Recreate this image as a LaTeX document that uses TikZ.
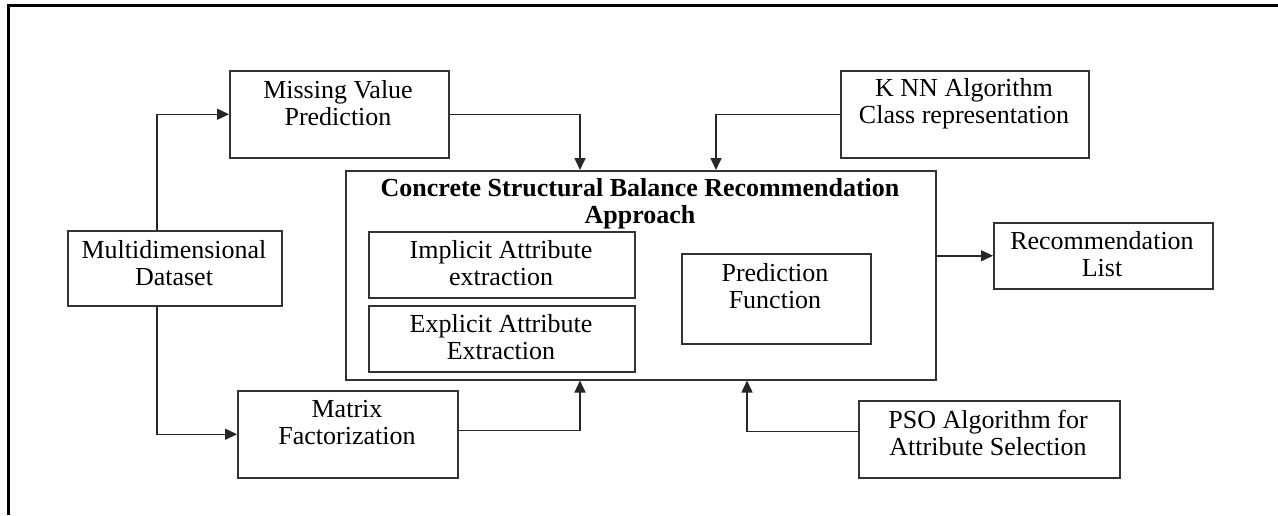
\documentclass[tikz,border=0pt]{standalone}
\usepackage{fontspec}
\setmainfont{Liberation Serif}
\usetikzlibrary{arrows.meta,calc}
\begin{document}
\begin{tikzpicture}[x=0.5pt,y=-0.5pt,
  box/.style={draw=black!80,line width=0.75pt,inner sep=0pt,anchor=north west},
  txt/.style={inner sep=0pt,align=center,font=\fontsize{13}{13.5}\selectfont},
  conn/.style={draw=black!85,line width=0.75pt,-{Triangle[length=6pt,width=5.5pt]}},
  frame/.style={draw=black,line width=1.5pt}]
\useasboundingbox (0,0) rectangle (1278,515);
\draw[frame] (8,515) -- (8,5) -- (1278,5);
% boxes
\node[box,minimum width=219*0.5pt,minimum height=87*0.5pt] (mv) at (229,70) {};
\node[txt] (mvt) at (338,103) {Missing Value\\Prediction};
\node[box,minimum width=248*0.5pt,minimum height=87*0.5pt] (knn) at (840,70) {};
\node[txt] (knnt) at (964,104) {K NN Algorithm\\Class representation};
\node[box,minimum width=590*0.5pt,minimum height=209*0.5pt] (main) at (345,170) {};
\node[txt,font=\fontsize{13}{13.5}\selectfont\bfseries] (maint) at (640,204) {Concrete Structural Balance Recommendation\\Approach};
\node[box,minimum width=266*0.5pt,minimum height=66*0.5pt] (imp) at (368,231) {};
\node[txt] (impt) at (501,263) {Implicit Attribute\\extraction};
\node[box,minimum width=266*0.5pt,minimum height=66*0.5pt] (exp) at (368,305) {};
\node[txt] (expt) at (501,337) {Explicit Attribute\\Extraction};
\node[box,minimum width=189*0.5pt,minimum height=90*0.5pt] (pred) at (681,253) {};
\node[txt] (predt) at (775,286) {Prediction\\Function};
\node[box,minimum width=214*0.5pt,minimum height=75*0.5pt] (md) at (67,230) {};
\node[txt] (mdt) at (174,263) {Multidimensional\\Dataset};
\node[box,minimum width=219*0.5pt,minimum height=66*0.5pt] (rec) at (993,222) {};
\node[txt] (rect) at (1102,254) {Recommendation\\List};
\node[box,minimum width=220*0.5pt,minimum height=87*0.5pt] (mf) at (237,390) {};
\node[txt] (mft) at (347,423) {Matrix\\Factorization};
\node[box,minimum width=261*0.5pt,minimum height=77*0.5pt] (pso) at (858,400) {};
\node[txt] (psot) at (988,433) {PSO Algorithm for\\Attribute Selection};
% helper coordinates
\coordinate (mdx) at (157,0);
\coordinate (c1) at (580,0);
\coordinate (c2) at (716,0);
\coordinate (c3) at (747,0);
\coordinate (mfe) at ($(mf.north east)!0.46!(mf.south east)$);
\coordinate (psow) at ($(pso.north west)!0.4!(pso.south west)$);
% connectors
\draw[conn] (md.north -| mdx) |- (mv.west);
\draw[conn] (md.south -| mdx) |- (mf.west);
\draw[conn] (mv.east) -| (main.north -| c1);
\draw[conn] (knn.west) -| (main.north -| c2);
\draw[conn] (main.east |- rec.west) -- (rec.west);
\draw[conn] (mfe) -| (main.south -| c1);
\draw[conn] (psow) -| (main.south -| c3);
\end{tikzpicture}
\end{document}
